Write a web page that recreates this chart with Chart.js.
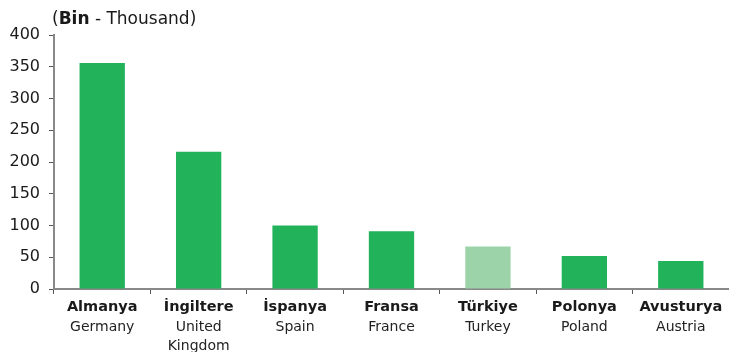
<!DOCTYPE html>
<html>
<head>
<meta charset="utf-8">
<script src="https://cdn.jsdelivr.net/npm/chart.js@4"></script>
<style>
  html, body { margin: 0; padding: 0; background: #fff; }
  #wrap { width: 729px; height: 352px; position: relative; }
</style>
</head>
<body>
<div id="wrap"><canvas id="chart"></canvas></div>
<script>
const namesTr = ['Almanya', 'İngiltere', 'İspanya', 'Fransa', 'Türkiye', 'Polonya', 'Avusturya'];
const namesEn = [['Germany'], ['United', 'Kingdom'], ['Spain'], ['France'], ['Turkey'], ['Poland'], ['Austria']];
const values = [356, 216, 100, 91, 67, 52, 44];
const barColors = ['#22b25a', '#22b25a', '#22b25a', '#22b25a', '#9dd3a8', '#22b25a', '#22b25a'];
const yTicks = [0, 50, 100, 150, 200, 250, 300, 350, 400];

const FONT = '"DejaVu Sans", Verdana, sans-serif';

// two-style category labels and the unit caption
const labelPlugin = {
    id: 'labels',
    afterDraw(chart) {
        const ctx = chart.ctx;
        const x = chart.scales.x;
        ctx.save();
        ctx.textAlign = 'center';
        ctx.textBaseline = 'middle';
        namesTr.forEach((name, i) => {
            const px = x.getPixelForValue(i);
            ctx.fillStyle = '#1a1a1a';
            ctx.font = 'bold 14.5px ' + FONT;
            ctx.fillText(name, px, 307);
            ctx.fillStyle = '#222';
            ctx.font = '14px ' + FONT;
            namesEn[i].forEach((line, j) => ctx.fillText(line, px, 327 + j * 19));
        });
        // caption
        ctx.textAlign = 'left';
        ctx.textBaseline = 'alphabetic';
        ctx.fillStyle = '#1a1a1a';
        let cx = 52;
        const parts = [['(', ''], ['Bin', 'bold '], [' - Thousand)', '']];
        parts.forEach(([t, w]) => {
            ctx.font = w + '17px ' + FONT;
            ctx.fillText(t, cx, 24);
            cx += ctx.measureText(t).width;
        });
        ctx.restore();
    }
};

new Chart(document.getElementById('chart'), {
    type: 'bar',
    data: {
        labels: namesTr,
        datasets: [{
            data: values,
            backgroundColor: barColors,
            barPercentage: 0.47,
            categoryPercentage: 1
        }]
    },
    options: {
        responsive: true,
        maintainAspectRatio: false,
        animation: false,
        layout: { padding: { top: 35, right: 0, left: 0, bottom: 0 } },
        plugins: { legend: { display: false }, tooltip: { enabled: false } },
        scales: {
            x: {
                afterFit: s => { s.height = 63; },
                grid: {
                    offset: true,
                    drawOnChartArea: false,
                    drawTicks: true,
                    tickLength: 5,
                    color: '#555'
                },
                border: { color: '#888', width: 2 },
                ticks: { display: false }
            },
            y: {
                min: 0,
                max: 400,
                afterFit: s => { s.width = 54; },
                afterBuildTicks: s => { s.ticks = yTicks.map(v => ({ value: v })); },
                grid: {
                    drawOnChartArea: false,
                    tickLength: 5,
                    color: '#555'
                },
                border: { color: '#888', width: 2 },
                ticks: {
                    padding: 9,
                    color: '#1a1a1a',
                    font: { family: FONT, size: 16 }
                }
            }
        }
    },
    plugins: [labelPlugin]
});
</script>
</body>
</html>
